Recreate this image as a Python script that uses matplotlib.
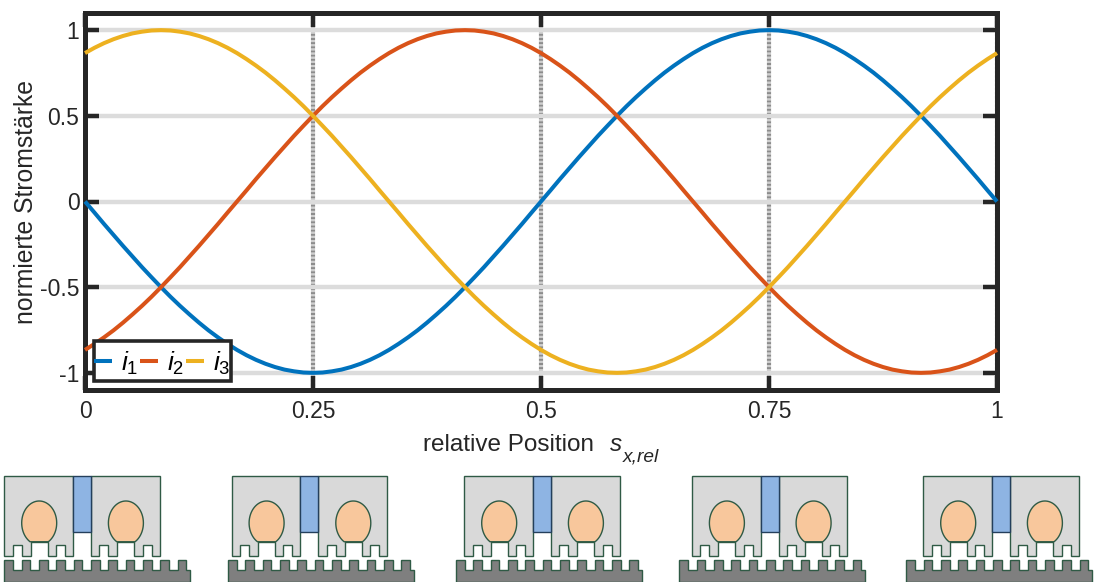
import matplotlib
matplotlib.use('Agg')
import matplotlib.pyplot as plt
import numpy as np
from matplotlib.patches import Polygon, Rectangle

plt.rcParams['font.family'] = ['Liberation Sans', 'DejaVu Sans']
plt.rcParams['mathtext.fontset'] = 'custom'
plt.rcParams['mathtext.rm'] = 'Liberation Sans'
plt.rcParams['mathtext.it'] = 'Liberation Sans:italic'

# values, one every 1/96 of the position axis
position = [i / 96 for i in range(97)]
i1 = [0, -.065, -.131, -.195, -.259, -.321, -.383, -.442, -.5, -.556, -.609, -.659,
      -.707, -.752, -.793, -.831, -.866, -.897, -.924, -.947, -.966, -.981, -.991, -.998,
      -1, -.998, -.991, -.981, -.966, -.947, -.924, -.897, -.866, -.831, -.793, -.752,
      -.707, -.659, -.609, -.556, -.5, -.442, -.383, -.321, -.259, -.195, -.131, -.065,
      0, .065, .131, .195, .259, .321, .383, .442, .5, .556, .609, .659,
      .707, .752, .793, .831, .866, .897, .924, .947, .966, .981, .991, .998,
      1, .998, .991, .981, .966, .947, .924, .897, .866, .831, .793, .752,
      .707, .659, .609, .556, .5, .442, .383, .321, .259, .195, .131, .065, 0]
i2 = [-.866, -.831, -.793, -.752, -.707, -.659, -.609, -.556, -.5, -.442, -.383, -.321,
      -.259, -.195, -.131, -.065, 0, .065, .131, .195, .259, .321, .383, .442,
      .5, .556, .609, .659, .707, .752, .793, .831, .866, .897, .924, .947,
      .966, .981, .991, .998, 1, .998, .991, .981, .966, .947, .924, .897,
      .866, .831, .793, .752, .707, .659, .609, .556, .5, .442, .383, .321,
      .259, .195, .131, .065, 0, -.065, -.131, -.195, -.259, -.321, -.383, -.442,
      -.5, -.556, -.609, -.659, -.707, -.752, -.793, -.831, -.866, -.897, -.924, -.947,
      -.966, -.981, -.991, -.998, -1, -.998, -.991, -.981, -.966, -.947, -.924, -.897, -.866]
i3 = [.866, .897, .924, .947, .966, .981, .991, .998, 1, .998, .991, .981,
      .966, .947, .924, .897, .866, .831, .793, .752, .707, .659, .609, .556,
      .5, .442, .383, .321, .259, .195, .131, .065, 0, -.065, -.131, -.195,
      -.259, -.321, -.383, -.442, -.5, -.556, -.609, -.659, -.707, -.752, -.793, -.831,
      -.866, -.897, -.924, -.947, -.966, -.981, -.991, -.998, -1, -.998, -.991, -.981,
      -.966, -.947, -.924, -.897, -.866, -.831, -.793, -.752, -.707, -.659, -.609, -.556,
      -.5, -.442, -.383, -.321, -.259, -.195, -.131, -.065, 0, .065, .131, .195,
      .259, .321, .383, .442, .5, .556, .609, .659, .707, .752, .793, .831, .866]

x_ticks = [0, 0.25, 0.5, 0.75, 1]
x_tick_labels = ['0', '0.25', '0.5', '0.75', '1']
y_ticks = [-1, -0.5, 0, 0.5, 1]
y_tick_labels = ['-1', '-0.5', '0', '0.5', '1']

# left edge of stator and rack in the five sketches below the plot
stator_left = [4.3, 231.7, 464.3, 692, 923.3]
rack_left = [4.3, 228, 456, 679.3, 906.3]

W, H = 1095, 582
DARK = '#262626'
EDGE = '#2f5a45'


def stator_block(x0):
    # outline of one stator half with its slots, top edge first
    y_top, y_low, y_slot, y_coil = 476, 556, 545, 541.7
    steps = [(8.4, y_slot), (17.4, y_low), (26.4, y_coil), (43.4, y_low),
             (51.7, y_slot), (60.7, y_low)]
    pts = [(x0, y_top), (x0, y_low)]
    level = y_low
    for dx, next_level in steps:
        pts.append((x0 + dx, level))
        pts.append((x0 + dx, next_level))
        level = next_level
    pts.append((x0 + 68.7, y_low))
    pts.append((x0 + 68.7, y_top))
    return pts


def coil(xc):
    t = np.linspace(-1.02, np.pi + 1.02, 60)
    xs = xc + 17.5 * np.cos(t)
    ys = 523 - 22 * np.sin(t)
    return np.column_stack([xs, ys])


def rack(x0):
    y_top, y_low, y_base = 559.7, 570.3, 582
    pts = [(x0, y_base), (x0, y_top)]
    for k in range(11):
        left = x0 + k * 17.33
        if k > 0:
            pts.append((left, y_low))
            pts.append((left, y_top))
        pts.append((left + 8.67, y_top))
        pts.append((left + 8.67, y_low))
    pts.append((x0 + 186, y_low))
    pts.append((x0 + 186, y_base))
    return pts


fig = plt.figure(figsize=(W / 100, H / 100), dpi=100)
ax = fig.add_axes([85 / W, 1 - 390 / H, 912 / W, 377 / H])

ax.plot(position, i1, color='#0072bd', lw=2.9, label='$i_1$', zorder=3, clip_on=False, solid_capstyle='butt')
ax.plot(position, i2, color='#d95319', lw=2.9, label='$i_2$', zorder=3, clip_on=False, solid_capstyle='butt')
ax.plot(position, i3, color='#edb120', lw=2.9, label='$i_3$', zorder=3, clip_on=False, solid_capstyle='butt')

ax.set_xlim(0, 1)
ax.set_ylim(-1.1, 1.1)
ax.set_xticks(x_ticks)
ax.set_xticklabels(x_tick_labels)
ax.set_yticks(y_ticks)
ax.set_yticklabels(y_tick_labels)
ax.tick_params(axis='both', direction='in', length=10, width=3.2, color=DARK,
               labelcolor=DARK, labelsize=16.5, top=True, right=True)
ax.tick_params(axis='x', pad=7)
ax.tick_params(axis='y', pad=4)
ax.yaxis.grid(True, color='#dcdcdc', lw=3.2, zorder=1)
ax.xaxis.grid(True, color='#8c8c8c', gapcolor='#cfcfcf', lw=3, linestyle=(0, (0.5, 0.5)), zorder=1)
ax.set_axisbelow(True)
for side in ax.spines.values():
    side.set_linewidth(3.6)
    side.set_color(DARK)

ax.set_xlabel('relative Position', fontsize=17.5, color=DARK, va='baseline')
ax.xaxis.set_label_coords((508.5 - 85) / 912, (390 - 450.7) / 377)
ax.set_ylabel('normierte Stromstärke', fontsize=17.8, color=DARK)
ax.yaxis.set_label_coords((38 - 85) / 912, 0.5)

# legend box is drawn apart because it is taller than the legend's own padding allows
ax.add_patch(Rectangle((8.5 / 912, 9 / 377), 137.5 / 912, 40 / 377, transform=ax.transAxes,
                       fc='white', ec=DARK, lw=2.6, zorder=4.5, clip_on=False))
leg = ax.legend(loc='center', bbox_to_anchor=(77 / 912, 27 / 377), ncol=3, fontsize=19,
                frameon=False, borderpad=0, borderaxespad=0, handlelength=0.68,
                handletextpad=0.34, columnspacing=0.08, labelspacing=0)
leg.set_zorder(5)

# sketches of the motor at the five positions, drawn in pixel coordinates
sk = fig.add_axes([0, 0, 1, 1], facecolor='none')
sk.set_xlim(0, W)
sk.set_ylim(H, 0)
sk.axis('off')
sk.text(610, 450.7, 's', fontsize=17.5, style='italic', color=DARK, va='baseline')
sk.text(623, 461.7, 'x,rel', fontsize=13.8, style='italic', color=DARK, va='baseline')
for s0, r0 in zip(stator_left, rack_left):
    sk.add_patch(Polygon(stator_block(s0), closed=True, fc='#d9d9d9', ec=EDGE, lw=1))
    sk.add_patch(Polygon(stator_block(s0 + 86.7), closed=True, fc='#d9d9d9', ec=EDGE, lw=1))
    sk.add_patch(Polygon([(s0 + 68.7, 476), (s0 + 86.7, 476), (s0 + 86.7, 532), (s0 + 68.7, 532)],
                         closed=True, fc='#8eb4e3', ec='#243f5c', lw=1))
    sk.add_patch(Polygon(coil(s0 + 34.9), closed=True, fc='#f8c79c', ec=EDGE, lw=1))
    sk.add_patch(Polygon(coil(s0 + 121.6), closed=True, fc='#f8c79c', ec=EDGE, lw=1))
    sk.add_patch(Polygon(rack(r0), closed=True, fc='#7f7f7f', ec=EDGE, lw=1))

fig.savefig('out.png', dpi=100)
